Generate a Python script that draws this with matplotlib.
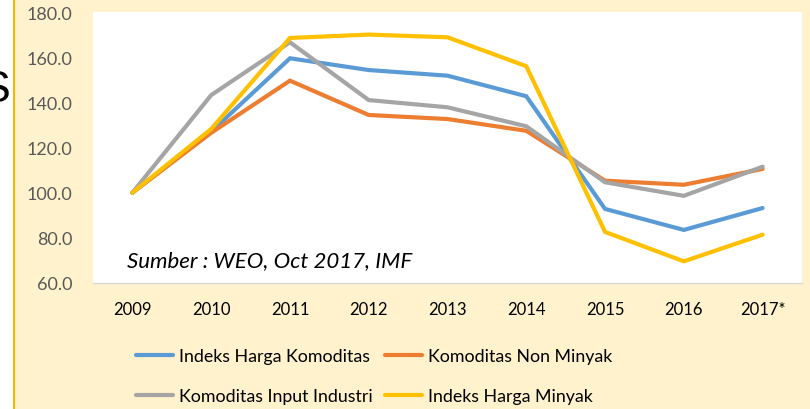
import matplotlib
matplotlib.use("Agg")
import matplotlib.pyplot as plt
from matplotlib.lines import Line2D
from matplotlib.patches import Rectangle

plt.rcParams['font.family'] = ['Lato', 'DejaVu Sans']

years = ["2009", "2010", "2011", "2012", "2013", "2014", "2015", "2016", "2017*"]
indeks_harga_komoditas = [100, 127, 159.5, 154.3, 151.8, 142.7, 92.8, 83.5, 93.2]
komoditas_non_minyak = [100, 126.5, 149.6, 134.4, 132.6, 127.4, 105.3, 103.5, 110.5]
komoditas_input_industri = [100, 143.2, 166.6, 141.0, 137.8, 129.4, 104.6, 98.6, 111.5]
indeks_harga_minyak = [100, 128.2, 168.5, 170.0, 168.8, 156.0, 82.6, 69.6, 81.4]
series_names = ["Indeks Harga Komoditas", "Komoditas Non Minyak",
                "Komoditas Input Industri", "Indeks Harga Minyak"]
colors = ["#5B9BD5", "#ED7D31", "#A5A5A5", "#FFC000"]
yticks = [60, 80, 100, 120, 140, 160, 180]

W, H = 810, 410
fig = plt.figure(figsize=(W / 100, H / 100), dpi=100)
fig.patch.set_facecolor("white")

# cream background panel with gold left border
fig.patches.append(Rectangle((14 / W, 0), 1 - 14 / W, 1, transform=fig.transFigure,
                             facecolor="#FFF2CC", edgecolor="none", zorder=-5))
fig.add_artist(Line2D([13.5 / W, 13.5 / W], [0, 1], transform=fig.transFigure,
                      color="#F2B705", lw=1.5, zorder=-4))
fig.text(11 / W, 1 - 91 / H, "S", fontsize=32, family="Liberation Sans", va="center",
         ha="right", color="black", zorder=-4)

ax = fig.add_axes([93 / W, (H - 284) / H, (802 - 93) / W, (284 - 13) / H], zorder=2)
ax.set_facecolor("white")

x = list(range(len(years)))
data = [indeks_harga_komoditas, komoditas_non_minyak, komoditas_input_industri, indeks_harga_minyak]
handles = []
for vals, name, c in zip(data, series_names, colors):
    h, = ax.plot(x, vals, color=c, lw=3.0, label=name, solid_joinstyle="miter",
                 solid_capstyle="round")
    handles.append(h)

ax.set_xlim(-0.5, len(years) - 0.5)
ax.set_ylim(60, 180)
ax.set_yticks(yticks)
ax.set_yticklabels([f"{v:.1f}" for v in yticks])
ax.set_xticks(x)
ax.set_xticklabels(years)
ax.tick_params(axis="y", length=0, pad=15, labelsize=13, labelcolor="#595959")
ax.tick_params(axis="x", length=0, pad=13, labelsize=12, labelcolor="black")
for s in ["top", "right", "left"]:
    ax.spines[s].set_visible(False)
ax.spines["bottom"].set_color("#D9D9D9")
ax.spines["bottom"].set_linewidth(1.0)

ax.text(127 / W, 1 - 261 / H, "Sumber : WEO, Oct 2017, IMF", transform=fig.transFigure,
        fontsize=16, style="italic", va="center", ha="left", color="black", zorder=5)

order = [0, 2, 1, 3]
leg = fig.legend([handles[i] for i in order], [series_names[i] for i in order],
                 ncol=2, loc="center left", bbox_to_anchor=(136 / W, 1 - 377 / H),
                 frameon=False, fontsize=12.8, handlelength=2.1, handletextpad=0.3,
                 columnspacing=0.7, labelspacing=1.35, borderpad=0, borderaxespad=0)

fig.savefig("out.png", dpi=100)
